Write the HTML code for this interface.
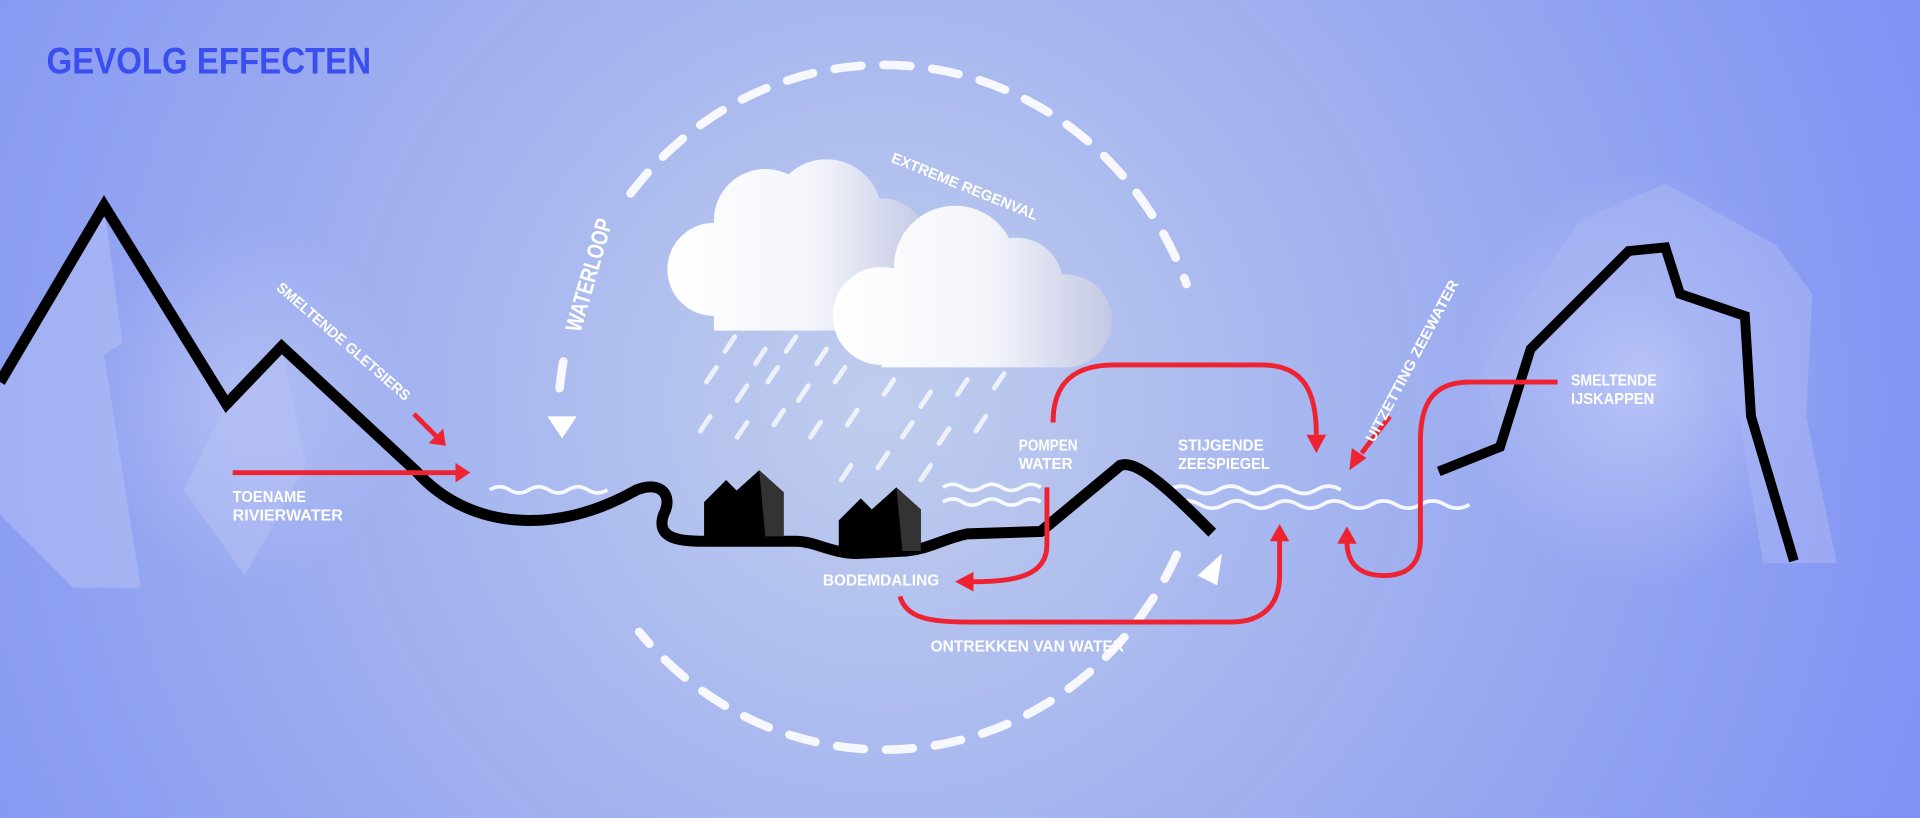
<!DOCTYPE html>
<html><head><meta charset="utf-8"><style>
html,body{margin:0;padding:0;width:1920px;height:818px;overflow:hidden}
svg{display:block}
text{font-family:"Liberation Sans",sans-serif;font-weight:bold;fill:#fff}
</style></head><body>
<svg width="1920" height="818" viewBox="0 0 1568 668" preserveAspectRatio="none">
<defs>
<radialGradient id="bg" cx="720" cy="330" r="900" gradientUnits="userSpaceOnUse">
<stop offset="0" stop-color="#c0cdee"/><stop offset="0.45" stop-color="#a2b2ef"/><stop offset="1" stop-color="#8092f4"/></radialGradient>
<linearGradient id="cl1" x1="545" y1="0" x2="760" y2="0" gradientUnits="userSpaceOnUse"><stop offset="0" stop-color="#fff"/><stop offset="0.55" stop-color="#f4f5fb"/><stop offset="1" stop-color="#c2c7e4"/></linearGradient>
<linearGradient id="cl2" x1="680" y1="0" x2="910" y2="0" gradientUnits="userSpaceOnUse"><stop offset="0" stop-color="#fff"/><stop offset="0.55" stop-color="#f4f5fb"/><stop offset="1" stop-color="#c2c7e4"/></linearGradient>
<radialGradient id="glow" cx="0.5" cy="0.5" r="0.5"><stop offset="0" stop-color="#c8d0f8"/><stop offset="1" stop-color="#c8d0f8" stop-opacity="0"/></radialGradient>
</defs>
<rect width="1568" height="668" fill="url(#bg)"/>
<ellipse cx="1340" cy="310" rx="150" ry="170" fill="url(#glow)" opacity="0.7"/>
<ellipse cx="200" cy="330" rx="130" ry="150" fill="url(#glow)" opacity="0.5"/>
<polygon points="0,312 85,168 100,280 85,290 115,480 60,480 0,420" fill="#b3bef5" opacity="0.6"/>
<polygon points="185,330 230,283 250,380 200,470 150,400" fill="#b8c2f4" opacity="0.5"/>
<polygon points="1210,300 1290,180 1360,150 1450,200 1480,240 1475,340 1500,460 1440,460 1420,340 1360,250 1330,210 1250,290 1230,365" fill="#a9b5f4" opacity="0.6"/>
<text x="38" y="60" font-size="30" textLength="265" lengthAdjust="spacingAndGlyphs" style="fill:#3b4ff0">GEVOLG EFFECTEN</text>
<g fill="none" stroke="#fff" stroke-width="7" stroke-dasharray="22 18" stroke-linecap="round" opacity="0.9">
<path d="M457,317 A265,280 0 0 1 461,290"/>
<path d="M515,158 A265,280 0 0 1 969,232"/>
<path d="M961,453 A265,280 0 0 1 522,516"/>
</g>
<polygon points="447,340 471,340 459,358" fill="#fff"/>
<polygon points="978,470 998,452 994,478" fill="#fff"/>
<g fill="url(#cl1)">
<circle cx="583" cy="220" r="38"/><circle cx="625" cy="180" r="42"/><circle cx="675" cy="175" r="45"/><circle cx="720" cy="200" r="38"/><circle cx="660" cy="225" r="40"/><rect x="583" y="215" width="150" height="55"/>
</g>
<g fill="url(#cl2)">
<circle cx="720" cy="258" r="40"/><circle cx="780" cy="218" r="50"/><circle cx="830" cy="232" r="38"/><circle cx="870" cy="262" r="38"/><rect x="720" y="240" width="150" height="60"/>
</g>
<g stroke="#fff" stroke-width="4" stroke-linecap="round" opacity="0.75">
<line x1="600" y1="275" x2="592" y2="287"/><line x1="625" y1="285" x2="617" y2="297"/><line x1="650" y1="275" x2="642" y2="287"/><line x1="675" y1="285" x2="667" y2="297"/>
<line x1="585" y1="300" x2="577" y2="312"/><line x1="610" y1="315" x2="602" y2="327"/><line x1="635" y1="300" x2="627" y2="312"/><line x1="660" y1="315" x2="652" y2="327"/><line x1="690" y1="300" x2="682" y2="312"/>
<line x1="580" y1="340" x2="572" y2="352"/><line x1="610" y1="345" x2="602" y2="357"/><line x1="640" y1="335" x2="632" y2="347"/><line x1="670" y1="345" x2="662" y2="357"/><line x1="700" y1="335" x2="692" y2="347"/>
<line x1="730" y1="310" x2="722" y2="322"/><line x1="760" y1="320" x2="752" y2="332"/><line x1="790" y1="310" x2="782" y2="322"/><line x1="820" y1="305" x2="812" y2="317"/><line x1="745" y1="345" x2="737" y2="357"/><line x1="775" y1="350" x2="767" y2="362"/><line x1="805" y1="340" x2="797" y2="352"/>
<line x1="695" y1="380" x2="687" y2="392"/><line x1="725" y1="370" x2="717" y2="382"/><line x1="760" y1="380" x2="752" y2="392"/>
</g>
<g fill="none" stroke="#fff" stroke-width="3" opacity="0.9">
<path d="M400,400 q8,-5 16,0 t16,0 t16,0 t16,0 t16,0 t16,0"/>
<path d="M770,398 q8,-5 16,0 t16,0 t16,0 t16,0 t16,0"/>
<path d="M770,410 q8,-5 16,0 t16,0 t16,0 t16,0 t16,0"/>
<path d="M955,400 q10,-6 20,0 t20,0 t20,0 t20,0 t20,0 t20,0 t20,0"/>
<path d="M960,412 q10,-6 20,0 t20,0 t20,0 t20,0 t20,0 t20,0 t20,0 t20,0 t20,0 t20,0 t20,0 t20,0"/>
</g>
<path d="M0,312 L85,168 L185,330 L230,283 L340,385 C380,430 450,440 520,400 C540,392 550,405 542,420 C535,440 555,442 575,442 L650,442 C665,442 680,452 700,452 L740,450 C760,448 770,440 790,436 L850,434 L915,380 C930,375 960,405 990,435" fill="none" stroke="#000" stroke-width="9"/>
<path d="M1175,385 L1225,365 L1250,285 L1330,205 L1360,202 L1372,240 L1425,258 L1430,340 L1465,458" fill="none" stroke="#000" stroke-width="8"/>
<g fill="#000">
<polygon points="575,410 593,392 611,410 611,440 575,440"/><polygon points="600,402 620,384 640,402 640,438 600,438"/>
<polygon points="685,425 703,407 721,425 721,450 685,450"/><polygon points="712,416 732,398 752,416 752,450 712,450"/>
</g>
<g fill="#333"><polygon points="620,384 640,402 640,438 625,438"/><polygon points="732,398 752,416 752,450 737,450"/></g>
<g fill="none" stroke="#ee2230" stroke-width="4">
<line x1="190" y1="386" x2="372" y2="386"/>
<line x1="338" y1="338" x2="356" y2="356"/>
<path d="M855,398 L855,445 C855,470 830,475 795,475"/>
<path d="M860,345 C860,310 880,298 910,298 L1030,298 C1065,298 1075,320 1075,355"/>
<path d="M735,487 C740,505 760,508 790,508 L1005,508 C1035,508 1045,490 1045,470 L1045,440"/>
<path d="M1272,312 L1200,312 C1170,312 1160,330 1160,360 L1160,440 C1160,465 1145,470 1130,470 C1110,470 1100,460 1100,442"/>
<line x1="1135" y1="340" x2="1112" y2="370"/>
</g>
<g fill="#ee2230">
<polygon points="372,378 384,386 372,394"/>
<polygon points="350,362 364,364 362,350"/>
<polygon points="795,467 780,475 795,483"/>
<polygon points="1067,355 1083,355 1075,370"/>
<polygon points="1037,442 1053,442 1045,428"/>
<polygon points="1092,444 1108,444 1100,430"/>
<polygon points="1104,366 1116,374 1102,384"/>
</g>
<g font-size="13">
<text x="190" y="410" textLength="60" lengthAdjust="spacingAndGlyphs">TOENAME</text><text x="190" y="425" textLength="90" lengthAdjust="spacingAndGlyphs">RIVIERWATER</text>
<text x="832" y="368" textLength="48" lengthAdjust="spacingAndGlyphs">POMPEN</text><text x="832" y="383" textLength="44" lengthAdjust="spacingAndGlyphs">WATER</text>
<text x="962" y="368" textLength="70" lengthAdjust="spacingAndGlyphs">STIJGENDE</text><text x="962" y="383" textLength="75" lengthAdjust="spacingAndGlyphs">ZEESPIEGEL</text>
<text x="1283" y="315" textLength="70" lengthAdjust="spacingAndGlyphs">SMELTENDE</text><text x="1283" y="330" textLength="68" lengthAdjust="spacingAndGlyphs">IJSKAPPEN</text>
<text x="672" y="478" textLength="95" lengthAdjust="spacingAndGlyphs">BODEMDALING</text>
<text x="760" y="532" textLength="158" lengthAdjust="spacingAndGlyphs">ONTREKKEN VAN WATER</text>
<text x="0" y="0" transform="translate(225,236) rotate(41)" font-size="12" textLength="140" lengthAdjust="spacingAndGlyphs">SMELTENDE GLETSIERS</text>
<text x="0" y="0" transform="translate(727,132) rotate(22)" font-size="12" textLength="128" lengthAdjust="spacingAndGlyphs">EXTREME REGENVAL</text>
<text x="0" y="0" transform="translate(1122,362) rotate(-62)" font-size="12" textLength="148" lengthAdjust="spacingAndGlyphs">UITZETTING ZEEWATER</text>
<text x="0" y="0" transform="translate(474,272) rotate(-74)" font-size="19" textLength="95" lengthAdjust="spacingAndGlyphs">WATERLOOP</text>
</g>
</svg>
</body></html>
